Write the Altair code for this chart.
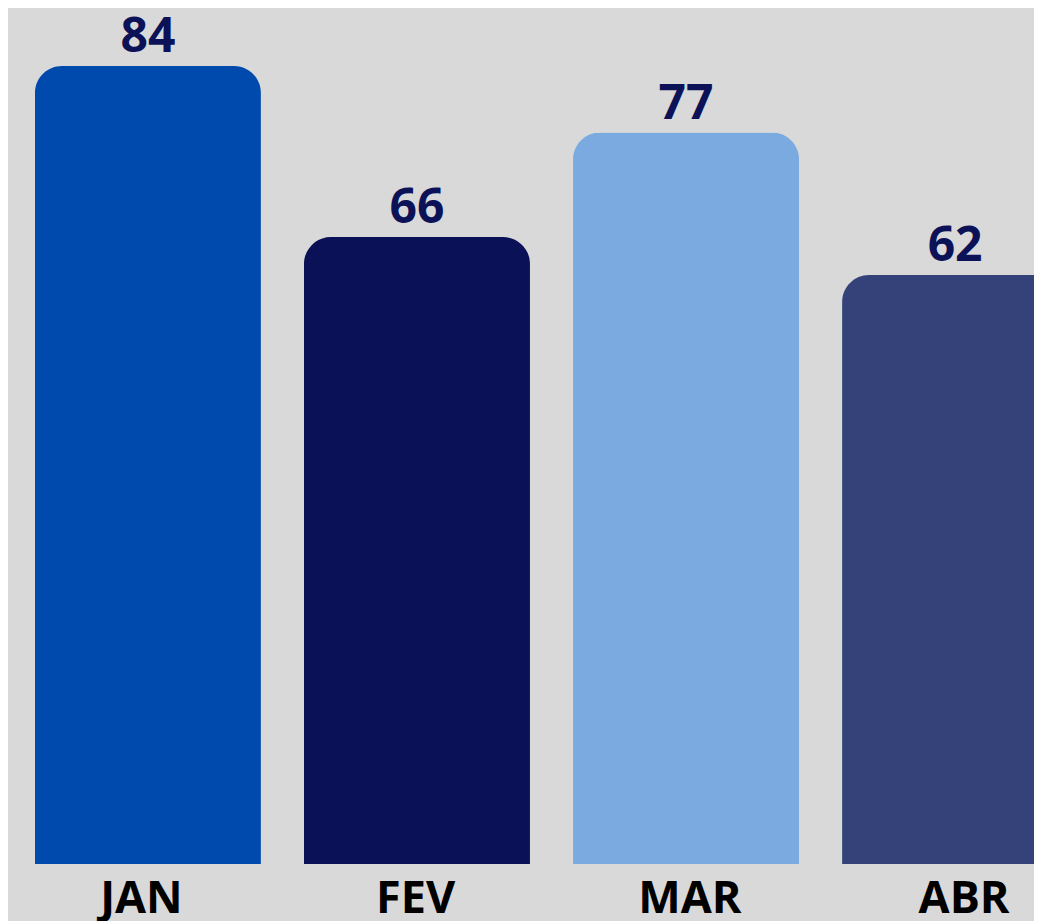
import altair as alt
import pandas as pd

months = ["JAN", "FEV", "MAR", "ABR"]
values = [84, 66, 77, 62]
colors = ["#004AAD", "#0A1157", "#7AAADF", "#344279"]

df = pd.DataFrame({"month": months, "value": values, "color": colors})

BG = "#D9D9D9"
x = alt.X(
    "month:N",
    sort=months,
    title=None,
    scale=alt.Scale(paddingInner=0.16, paddingOuter=0.1, range=[0, 1087]),
    axis=alt.Axis(
        labelAngle=0,
        labelFont="Open Sans",
        labelFontWeight="bold",
        labelFontSize=45,
        labelColor="#000000",
        labelPadding=12,
        labelOffset=alt.ExprRef(expr="-6.5 + 15.5 * datum.index"),
        ticks=False,
        domain=False,
        grid=False,
    ),
)
y = alt.Y(
    "value:Q",
    title=None,
    scale=alt.Scale(domain=[0, 856 / 9.5], nice=False, zero=True),
    axis=None,
)

bars = alt.Chart(df).mark_bar(
    cornerRadiusTopLeft=27, cornerRadiusTopRight=27
).encode(x=x, y=y, color=alt.Color("color:N", scale=None))

labels = alt.Chart(df).mark_text(
    font="Open Sans",
    fontWeight="bold",
    fontSize=48,
    color="#0B1257",
    baseline="alphabetic",
    dy=-14,
).encode(x=x, y=y, text=alt.Text("value:Q"))

chart = (
    alt.layer(bars, labels)
    .properties(
        width=1026,
        height=856,
        background=BG,
        padding={"left": 0, "top": 0, "right": 0, "bottom": 57},
        autosize=alt.AutoSizeParams(type="none"),
    )
    .configure_view(stroke=None, fill=BG)
)

chart.save("out.html", embed_options={"renderer": "svg", "actions": False})
